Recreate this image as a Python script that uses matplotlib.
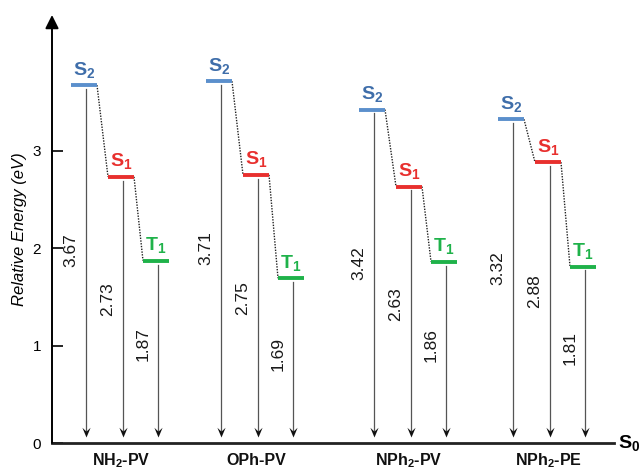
import matplotlib
matplotlib.use("Agg")
import matplotlib.pyplot as plt
from matplotlib.path import Path

plt.rcParams['font.family'] = ['Liberation Sans', 'DejaVu Sans']
plt.rcParams['mathtext.fontset'] = 'custom'
plt.rcParams['mathtext.rm'] = 'Liberation Sans'
plt.rcParams['mathtext.bf'] = 'Liberation Sans:bold'
plt.rcParams['mathtext.it'] = 'Liberation Sans:italic'
plt.rcParams['mathtext.default'] = 'bf'

# ---- data ----
categories = ['NH$_2$-PV', 'OPh-PV', 'NPh$_2$-PV', 'NPh$_2$-PE']
s2_values = [3.67, 3.71, 3.42, 3.32]
s1_values = [2.73, 2.75, 2.63, 2.88]
t1_values = [1.87, 1.69, 1.86, 1.81]
state_names = ['S$_2$', 'S$_1$', 'T$_1$']
y_ticks = [0, 1, 2, 3]

# ---- layout / style ----
group_x = [69, 204, 357, 496]          # horizontal layout (axis units)
state_offsets = [-37, 0, 35]
half_w = 13
bar_colors = ['#5b8fcc', '#e8302e', '#1fb24a']
text_colors = ['#3f6eaa', '#e8302e', '#1fb24a']

# concave arrow-head marker, tip at origin
head = Path([(0, 0), (-0.42, 1.0), (0, 0.6), (0.42, 1.0), (0, 0)],
            [Path.MOVETO, Path.LINETO, Path.LINETO, Path.LINETO, Path.CLOSEPOLY])

W, H = 640, 469
fig = plt.figure(figsize=(W / 100, H / 100), dpi=100)
x0, x1, ytop, ybot = 52, 614, 15, 443
ax = fig.add_axes([x0 / W, (H - ybot) / H, (x1 - x0) / W, (ybot - ytop) / H])
px_per_ev = 97.5
ax.set_xlim(0, x1 - x0)
ax.set_ylim(0, (ybot - ytop) / px_per_ev)

for s in ['top', 'right', 'left']:
    ax.spines[s].set_visible(False)
ax.spines['bottom'].set_linewidth(2.0)
ax.spines['bottom'].set_color('#222222')

# y axis with arrow
ax.annotate('', xy=(0, 1.0), xytext=(0, 0), xycoords='axes fraction',
            arrowprops=dict(arrowstyle='-|>,head_length=0.5,head_width=0.25',
                            color='black', lw=1.4,
                            mutation_scale=16, shrinkA=0, shrinkB=0),
            annotation_clip=False)

ax.set_xticks([])
ax.set_yticks(y_ticks)
ax.set_yticklabels([str(t) for t in y_ticks], fontsize=11)
ax.tick_params(axis='y', direction='in', length=8, width=1.2, pad=8)
ax.set_ylabel('Relative Energy (eV)', fontsize=12, style='italic', labelpad=4)

tip_y = 6 / px_per_ev
all_values = list(zip(s2_values, s1_values, t1_values))
for gi, (gx, vals) in enumerate(zip(group_x, all_values)):
    xs = [gx + o for o in state_offsets]
    for si, (x, v) in enumerate(zip(xs, vals)):
        # level bar
        ax.plot([x - half_w, x + half_w], [v, v], color=bar_colors[si], lw=2.8,
                solid_capstyle='butt', zorder=3)
        # state label
        ax.annotate(state_names[si], xy=(x, v), xytext=(0, 4),
                    textcoords='offset points', ha='center', va='bottom',
                    fontsize=14, fontweight='bold', color=text_colors[si])
        # vertical arrow down to S0
        ax.plot([x + 1.5, x + 1.5], [v - 0.04, tip_y + 0.04], color='#555555',
                lw=0.9, zorder=2)
        ax.plot([x + 1.5], [tip_y], marker=head, markersize=14, color='#111111',
                markeredgewidth=0, zorder=2)
        # value label
        ax.text(x - 13, 0.54 * v, f'{v:.2f}', rotation=90, ha='center', va='center',
                fontsize=12.5, color='#1a1a1a')
    # dotted connectors
    for si in range(2):
        ax.plot([xs[si] + half_w, xs[si + 1] - half_w], [vals[si], vals[si + 1]],
                color='#222222', lw=1.0, ls=(0, (1, 1)), zorder=2)
    # category label
    ax.text(gx, -0.18, categories[gi], ha='center', va='center', fontsize=11.5,
            fontweight='bold', color='#111111', clip_on=False)

# S0 label
ax.text(x1 - x0 + 4, 0, 'S$_0$', ha='left', va='center', fontsize=14,
        fontweight='bold', clip_on=False)

fig.savefig('out.png', dpi=100)
